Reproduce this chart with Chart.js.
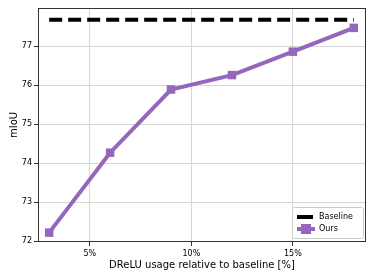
<!DOCTYPE html>
<html>
<head>
<meta charset="utf-8">
<script src="https://cdn.jsdelivr.net/npm/chart.js@4"></script>
<style>
  html, body { margin: 0; padding: 0; background: #fff; }
  #wrap { width: 374px; height: 280px; }
</style>
</head>
<body>
<div id="wrap"><canvas id="mainChart" width="374" height="280"></canvas></div>
<script>
// values
const usage = [3, 6, 9, 12, 15, 18];            // DReLU usage [%]
const oursMiou = [72.22, 74.27, 75.89, 76.26, 76.86, 77.47];
const baselineMiou = 77.68;
const xTicks = [5, 10, 15];
const yTicks = [72, 73, 74, 75, 76, 77];

const purple = "#9467bd";
const font = "'DejaVu Sans', sans-serif";

// frame around the plot area + legend box in the lower right corner
const framePlugin = {
  id: "frame",
  afterDraw(chart) {
    const { ctx, chartArea: a } = chart;
    ctx.save();
    ctx.strokeStyle = "#333";
    ctx.lineWidth = 1;
    ctx.strokeRect(a.left + 0.5, a.top + 0.5, a.right - a.left - 1, a.bottom - a.top - 1);

    // legend
    const w = 71, h = 31;
    const x = a.right - w - 3, y = a.bottom - h - 4;
    ctx.fillStyle = "rgba(255,255,255,0.85)";
    ctx.strokeStyle = "#ccc";
    ctx.lineWidth = 1;
    ctx.beginPath();
    ctx.roundRect(x + 0.5, y + 0.5, w, h, 2);
    ctx.fill();
    ctx.stroke();

    const sets = chart.data.datasets;
    ctx.font = "8px " + font;
    ctx.textBaseline = "middle";
    ctx.fillStyle = "#000";
    // baseline entry
    ctx.strokeStyle = "#000";
    ctx.lineWidth = 4;
    ctx.beginPath();
    ctx.moveTo(x + 5, y + 10);
    ctx.lineTo(x + 21, y + 10);
    ctx.stroke();
    ctx.fillText(sets[0].label, x + 27, y + 10);
    // ours entry
    ctx.strokeStyle = purple;
    ctx.beginPath();
    ctx.moveTo(x + 5, y + 22);
    ctx.lineTo(x + 23, y + 22);
    ctx.stroke();
    ctx.fillStyle = purple;
    ctx.fillRect(x + 9, y + 17, 10, 10);
    ctx.fillStyle = "#000";
    ctx.fillText(sets[1].label, x + 27, y + 22);
    ctx.restore();
  }
};

new Chart(document.getElementById("mainChart").getContext("2d"), {
  type: "line",
  data: {
    datasets: [
      {
        label: "Baseline",
        data: [
          { x: usage[0], y: baselineMiou },
          { x: usage[usage.length - 1], y: baselineMiou },
        ],
        borderColor: "#000",
        borderWidth: 4,
        borderDash: [13, 6],
        pointRadius: 0,
      },
      {
        label: "Ours",
        data: usage.map((u, i) => ({ x: u, y: oursMiou[i] })),
        borderColor: purple,
        backgroundColor: purple,
        borderWidth: 4,
        pointStyle: "rect",
        pointRadius: 6,
        pointBorderWidth: 0,
      },
    ],
  },
  options: {
    responsive: false,
    animation: false,
    layout: { padding: { top: 8, right: 8, left: 0, bottom: 0 } },
    plugins: { legend: { display: false }, tooltip: { enabled: false } },
    scales: {
      x: {
        type: "linear",
        min: 2.45,
        max: 18.6,
        afterBuildTicks: (s) => { s.ticks = xTicks.map((v) => ({ value: v })); },
        afterFit: (s) => { s.height = 38; },
        ticks: {
          color: "#000",
          font: { family: font, size: 8 },
          padding: 3,
          callback: (v) => v + "%",
        },
        grid: { color: "#d6d6d6", tickColor: "#333", tickLength: 4 },
        border: { display: false },
        title: {
          display: true,
          text: "DReLU usage relative to baseline [%]",
          color: "#000",
          font: { family: font, size: 10 },
          padding: { top: 1, bottom: 9 },
        },
      },
      y: {
        min: 71.98,
        max: 77.98,
        afterBuildTicks: (s) => { s.ticks = yTicks.map((v) => ({ value: v })); },
        afterFit: (s) => { s.width = 38; },
        ticks: {
          color: "#000",
          font: { family: font, size: 8 },
          padding: 2,
        },
        grid: { color: "#d6d6d6", tickColor: "#333", tickLength: 4 },
        border: { display: false },
        title: {
          display: true,
          text: "mIoU",
          color: "#000",
          font: { family: font, size: 10 },
          padding: { top: 8, bottom: 2 },
        },
      },
    },
  },
  plugins: [framePlugin],
});
</script>
</body>
</html>
